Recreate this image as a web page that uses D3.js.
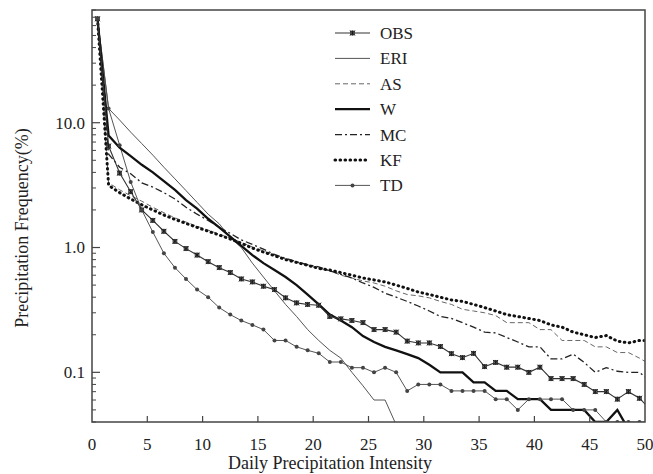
<!DOCTYPE html>
<html><head><meta charset="utf-8">
<script src="https://cdn.jsdelivr.net/npm/d3@7"></script>
<style>body{margin:0;background:#fff}svg{display:block}</style>
</head><body><svg id="c" width="653" height="474"></svg>
<script>
const intensity = d3.range(51).map(i => i + 0.5);
const xTicks = [0,5,10,15,20,25,30,35,40,45,50];
const yTickLabels = [0.1, 1, 10];
const seriesNames = ["OBS","ERI","AS","W","MC","KF","TD"];

const OBS = [68,6.5,3.95,2.8,2.0,1.65,1.35,1.12,0.98,0.87,0.77,0.69,0.63,0.56,0.53,0.49,0.46,0.395,0.36,0.35,0.345,0.28,0.268,0.26,0.25,0.22,0.22,0.21,0.178,0.172,0.172,0.161,0.141,0.131,0.142,0.111,0.12,0.11,0.11,0.1,0.11,0.089,0.089,0.089,0.08,0.07,0.07,0.061,0.07,0.062,0.05];
const ERI = [68,13,10.5,8.4,6.8,5.5,4.4,3.55,2.86,2.3,1.85,1.55,1.2,1.0,0.75,0.58,0.45,0.35,0.28,0.22,0.18,0.15,0.13,0.1,0.078,0.06,0.06,0.038];
const AS = [68,3.3,2.9,2.6,2.35,2.1,1.9,1.73,1.6,1.48,1.38,1.28,1.19,1.1,1.01,0.94,0.87,0.81,0.76,0.72,0.68,0.65,0.6,0.57,0.54,0.52,0.49,0.45,0.42,0.41,0.395,0.37,0.35,0.32,0.31,0.3,0.285,0.25,0.25,0.25,0.22,0.22,0.18,0.18,0.18,0.16,0.16,0.144,0.144,0.13,0.115];
const W = [68,7.9,6.3,5.4,4.6,4.0,3.4,2.9,2.4,2.05,1.7,1.45,1.22,1.03,0.87,0.75,0.66,0.58,0.5,0.42,0.35,0.29,0.26,0.23,0.195,0.175,0.16,0.15,0.14,0.13,0.115,0.1,0.1,0.1,0.083,0.083,0.071,0.071,0.061,0.061,0.061,0.05,0.05,0.05,0.05,0.04,0.04,0.05,0.035,0.035,0.035];
const MC = [68,5.6,4.4,3.9,3.3,3.05,2.75,2.45,2.1,1.85,1.65,1.45,1.3,1.15,1.06,0.97,0.88,0.82,0.77,0.73,0.7,0.65,0.61,0.57,0.52,0.48,0.43,0.4,0.37,0.34,0.31,0.28,0.27,0.25,0.23,0.21,0.207,0.19,0.175,0.16,0.16,0.128,0.128,0.14,0.12,0.1,0.109,0.102,0.1,0.1,0.085];
const KF = [68,3.15,2.75,2.45,2.2,2.0,1.82,1.68,1.56,1.45,1.35,1.26,1.17,1.08,0.99,0.92,0.86,0.8,0.76,0.72,0.68,0.66,0.63,0.6,0.57,0.55,0.53,0.5,0.47,0.44,0.42,0.4,0.38,0.37,0.35,0.33,0.31,0.29,0.28,0.27,0.26,0.24,0.23,0.21,0.2,0.19,0.197,0.178,0.172,0.18,0.18];
const TD = [68,13,6.6,3.35,2.0,1.33,0.9,0.69,0.56,0.46,0.4,0.33,0.29,0.26,0.24,0.22,0.18,0.18,0.16,0.15,0.142,0.121,0.121,0.109,0.109,0.1,0.109,0.1,0.071,0.08,0.08,0.08,0.071,0.071,0.071,0.071,0.061,0.061,0.05,0.061,0.061,0.061,0.061,0.05,0.05,0.05,0.04,0.04,0.04,0.04,0.04];

const FONT = "'Liberation Serif', 'DejaVu Serif', serif";
const L = 92, R = 645, T = 10, B = 422;
const svg = d3.select("#c");
const x = d3.scaleLinear().domain([0, 50]).range([L, R]);
const y = d3.scaleLog().domain([0.04, 80]).range([B, T]);

svg.append("defs").append("clipPath").attr("id","clip")
  .append("rect").attr("x",L).attr("y",T).attr("width",R-L).attr("height",B-T);

const styles = {
  OBS:{stroke:"#333",w:1.1,dash:null,cap:"butt"},
  ERI:{stroke:"#555",w:1.0,dash:null,cap:"butt"},
  AS:{stroke:"#666",w:1.0,dash:"5,3",cap:"butt"},
  W:{stroke:"#111",w:2.3,dash:null,cap:"butt"},
  MC:{stroke:"#222",w:1.3,dash:"7,3,2,3",cap:"butt"},
  KF:{stroke:"#111",w:3,dash:"0.6,4.4",cap:"round"},
  TD:{stroke:"#555",w:1.0,dash:null,cap:"butt"}
};
const data = {OBS,ERI,AS,W,MC,KF,TD};
const line = d3.line().x((d,i)=>x(intensity[i])).y(d=>y(d));
const g = svg.append("g").attr("clip-path","url(#clip)");
["ERI","AS","MC","KF","TD","W","OBS"].forEach(n=>{
  const s = styles[n];
  g.append("path").datum(data[n]).attr("d",line).attr("fill","none")
    .attr("stroke",s.stroke).attr("stroke-width",s.w)
    .attr("stroke-linecap",s.cap)
    .attr("stroke-dasharray",s.dash);
});
function obsMarker(sel, cx, cy){
  const h = 2;
  sel.append("rect").attr("x",cx-h).attr("y",cy-h).attr("width",2*h).attr("height",2*h)
    .attr("fill","#666").attr("stroke","#222").attr("stroke-width",0.6);
  sel.append("path").attr("d",`M${cx-h-0.5},${cy-h-0.5}L${cx+h+0.5},${cy+h+0.5}M${cx+h+0.5},${cy-h-0.5}L${cx-h-0.5},${cy+h+0.5}M${cx},${cy-h-0.5}L${cx},${cy+h+0.5}`)
    .attr("stroke","#111").attr("stroke-width",0.8);
}
OBS.forEach((v,i)=>obsMarker(g, x(intensity[i]), y(v)));
TD.forEach((v,i)=>g.append("circle").attr("cx",x(intensity[i])).attr("cy",y(v)).attr("r",2).attr("fill","#444"));

const ax = svg.append("g");
ax.append("rect").attr("x",L).attr("y",T).attr("width",R-L).attr("height",B-T)
  .attr("fill","none").attr("stroke","#444").attr("stroke-width",1.5);
xTicks.forEach(t=>{
  if(t>0 && t<50) ax.append("line").attr("x1",x(t)).attr("x2",x(t)).attr("y1",B).attr("y2",B-6).attr("stroke","#444").attr("stroke-width",1.2);
  ax.append("text").attr("x",x(t)).attr("y",B+28).attr("text-anchor","middle")
    .attr("font-family",FONT).attr("font-size",17).attr("fill","#222").text(t);
});
const minor = [];
[0.01,0.1,1,10].forEach(d=>{for(let k=2;k<=9;k++){const v=k*d; if(v>=0.04 && v<=80) minor.push(v);}});
minor.forEach(v=>ax.append("line").attr("x1",L).attr("x2",L+4).attr("y1",y(v)).attr("y2",y(v)).attr("stroke","#444").attr("stroke-width",1));
yTickLabels.forEach(v=>{
  ax.append("line").attr("x1",L).attr("x2",L+8).attr("y1",y(v)).attr("y2",y(v)).attr("stroke","#444").attr("stroke-width",1.2);
  ax.append("text").attr("x",L-7).attr("y",y(v)).attr("dy","0.35em").attr("text-anchor","end")
    .attr("font-family",FONT).attr("font-size",17).attr("fill","#222").text(v.toFixed(1));
});
svg.append("text").attr("x",330).attr("y",469).attr("text-anchor","middle")
  .attr("font-family",FONT).attr("font-size",18).attr("fill","#222").text("Daily Precipitation Intensity");
svg.append("text").attr("transform","translate(28,228) rotate(-90)").attr("text-anchor","middle")
  .attr("font-family",FONT).attr("font-size",18).attr("fill","#222").text("Precipitation Frequency(%)");

const lg = svg.append("g");
seriesNames.forEach((n,i)=>{
  const yy = 33 + i*25.4;
  const s = styles[n];
  lg.append("line").attr("x1",335).attr("x2",370).attr("y1",yy).attr("y2",yy)
    .attr("stroke",s.stroke).attr("stroke-width",s.w).attr("stroke-linecap",s.cap).attr("stroke-dasharray",s.dash);
  if(n==="OBS") obsMarker(lg, 352.5, yy);
  if(n==="TD") lg.append("circle").attr("cx",352.5).attr("cy",yy).attr("r",2).attr("fill","#444");
  lg.append("text").attr("x",380).attr("y",yy).attr("dy","0.35em")
    .attr("font-family",FONT).attr("font-size",17).attr("fill","#222").text(n);
});
</script></body></html>
